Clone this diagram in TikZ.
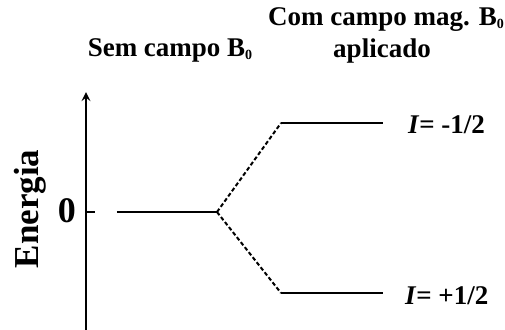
\documentclass[tikz,border=0pt]{standalone}
\usepackage{fontspec}
\setmainfont{Liberation Serif}
\newcommand{\Bnull}{B\raisebox{-0.3ex}{\fontsize{7}{7}\selectfont 0}}
\begin{document}
\begin{tikzpicture}[x=0.5pt,y=-0.5pt,font=\bfseries\fontsize{13.5}{16}\selectfont,line join=round,>=stealth]
\useasboundingbox (0,0) rectangle (505,329);
% axis and levels
\coordinate (axb) at (86,330);
\coordinate (axt) at (86,92);
\coordinate (tk0) at (86,212);
\coordinate (tk) at (95,212);
\coordinate (s1) at (117,212);
\coordinate (s2) at (217,212);
\coordinate (u1) at (281,123);
\coordinate (u2) at (383,123);
\coordinate (l1) at (281,293);
\coordinate (l2) at (383,293);
\draw [line width=1pt,->] (axb) -- (axt);
\draw [line width=1pt] (tk0) -- (tk);
\draw [line width=1pt] (s1) -- (s2);
\draw [line width=1pt] (u1) -- (u2);
\draw [line width=1pt] (l1) -- (l2);
\draw [line width=1pt,dash pattern=on 2pt off 1.2pt] (s2) -- (u1);
\draw [line width=1pt,dash pattern=on 2pt off 1.2pt] (s2) -- (l1);
% labels
\node (zero) at (67,211) {\fontsize{18}{18}\selectfont 0};
\node [rotate=90] (energia) at (30,209) {\fontsize{17.5}{18}\selectfont Energia};
\node [anchor=base] (sem) at (170,56) {Sem campo \Bnull};
\node [anchor=base] (com) at (386,25) {Com campo mag. \Bnull};
\node [anchor=base] (apl) at (382,57) {aplicado};
\node [anchor=west] (up) at (401,125) {\textit{I}= -1/2};
\node [anchor=west] (lo) at (398,296) {\textit{I}= +1/2};
\end{tikzpicture}
\end{document}
